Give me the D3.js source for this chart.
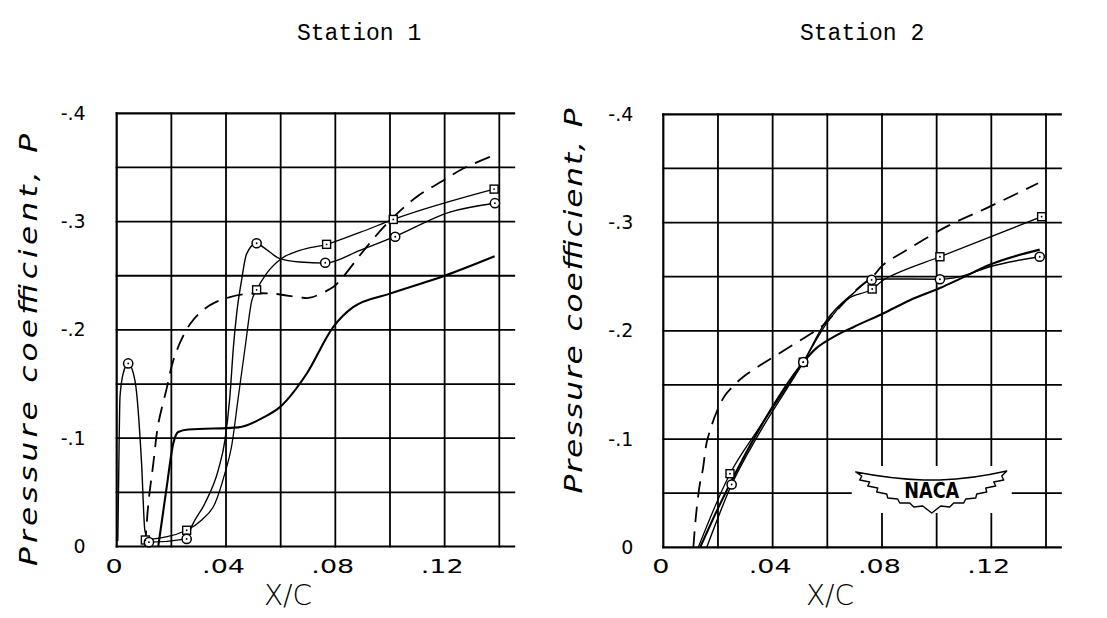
<!DOCTYPE html>
<html><head><meta charset="utf-8">
<script src="https://cdn.jsdelivr.net/npm/d3@7"></script>
<style>body{margin:0;background:#fff}svg{display:block}</style>
</head><body><svg id="c" width="1107" height="618"></svg>
<script>
// ---------- shared axis data ----------
const xTicks = [0, 0.04, 0.08, 0.12];
const xTickLabels = ["0", ".04", ".08", ".12"];
const yTicks = [0, -0.1, -0.2, -0.3, -0.4];
const yTickLabels = ["0", "-.1", "-.2", "-.3", "-.4"];
const gridX = [0, 0.02, 0.04, 0.06, 0.08, 0.10, 0.12, 0.14];
const gridY = [0, -0.05, -0.1, -0.15, -0.2, -0.25, -0.3, -0.35, -0.4];
const titles = ["Station 1", "Station 2"];
const xLabel = "X/C";
const yLabel = "Pressure coefficient, P";

// ---------- Station 1 ----------
const s1CircleMarkX = [0.0042, 0.0118, 0.0256, 0.0512, 0.0763, 0.1019, 0.1384];
const s1CircleMarkP = [-0.169, -0.004, -0.007, -0.280, -0.262, -0.286, -0.317];
const s1CircleCurveX = [0.0004, 0.0007, 0.0012, 0.0024, 0.0042, 0.0067, 0.0091, 0.0103, 0.0118, 0.0256, 0.0274, 0.0323, 0.0372, 0.0396, 0.0414, 0.0427, 0.0439, 0.0457, 0.0475, 0.0512, 0.0536, 0.0597, 0.067, 0.0763, 0.089, 0.1019, 0.1219, 0.1384];
const s1CircleCurveP = [-0.005, -0.06, -0.138, -0.160, -0.169, -0.153, -0.077, -0.015, -0.004, -0.007, -0.0185, -0.040, -0.071, -0.098, -0.138, -0.184, -0.215, -0.246, -0.270, -0.280, -0.2765, -0.2658, -0.2627, -0.2617, -0.2735, -0.2864, -0.3088, -0.317];

const s1SquareMarkX = [0.0105, 0.0256, 0.0512, 0.0768, 0.1012, 0.1381];
const s1SquareMarkP = [-0.006, -0.015, -0.237, -0.279, -0.302, -0.330];
const s1SquareCurveX = [0.0105, 0.0256, 0.0311, 0.036, 0.0396, 0.042, 0.0445, 0.047, 0.0494, 0.0512, 0.0548, 0.0603, 0.067, 0.0768, 0.089, 0.1012, 0.1381];
const s1SquareCurveP = [-0.006, -0.015, -0.0245, -0.040, -0.0677, -0.092, -0.138, -0.184, -0.2267, -0.237, -0.252, -0.266, -0.2735, -0.279, -0.290, -0.302, -0.330];

const s1SolidX = [0.0152, 0.0183, 0.0207, 0.0225, 0.0262, 0.0445, 0.0542, 0.0597, 0.0695, 0.0792, 0.0865, 0.100, 0.120, 0.1383];
const s1SolidP = [0, -0.055, -0.095, -0.1057, -0.108, -0.110, -0.1198, -0.1287, -0.1595, -0.2026, -0.221, -0.2335, -0.250, -0.268];

const s1DashX = [0.0104, 0.0116, 0.0134, 0.0152, 0.0183, 0.0205, 0.0235, 0.027, 0.031, 0.0353, 0.0414, 0.0481, 0.0573, 0.067, 0.0707, 0.0792, 0.0823, 0.0914, 0.100, 0.1097, 0.1195, 0.1268, 0.1371];
const s1DashP = [0, -0.04, -0.0767, -0.113, -0.146, -0.170, -0.190, -0.206, -0.217, -0.2245, -0.2303, -0.2334, -0.2334, -0.230, -0.2297, -0.2396, -0.2474, -0.2765, -0.301, -0.3227, -0.338, -0.349, -0.3603];

// ---------- Station 2 ----------
const s2CircleMarkX = [0.025, 0.0512, 0.0762, 0.1012, 0.1377];
const s2CircleMarkP = [-0.058, -0.171, -0.247, -0.2476, -0.2684];
const s2CircleCurveX = [0.0159, 0.025, 0.035, 0.0512, 0.0598, 0.0695, 0.0762, 0.0811, 0.1012, 0.1085, 0.1194, 0.1377];
const s2CircleCurveP = [0, -0.058, -0.105, -0.171, -0.21, -0.2346, -0.247, -0.2479, -0.2476, -0.250, -0.2592, -0.2684];

const s2SquareMarkX = [0.0244, 0.0512, 0.0764, 0.1012, 0.1384];
const s2SquareMarkP = [-0.068, -0.171, -0.2386, -0.2684, -0.3054];
const s2SquareCurveX = [0.0128, 0.0244, 0.035, 0.0512, 0.0598, 0.067, 0.0764, 0.0811, 0.0841, 0.1012, 0.1384];
const s2SquareCurveP = [0, -0.068, -0.11, -0.171, -0.207, -0.2285, -0.2386, -0.2479, -0.2516, -0.2684, -0.3054];

const s2SolidX = [0.0135, 0.02, 0.03, 0.04, 0.0512, 0.056, 0.062, 0.07, 0.0804, 0.09, 0.1012, 0.1085, 0.1194, 0.1377];
const s2SolidP = [0, -0.036, -0.086, -0.13, -0.171, -0.184, -0.194, -0.204, -0.216, -0.228, -0.2395, -0.248, -0.261, -0.275];

const s2DashX = [0.0110, 0.0119, 0.0134, 0.0144, 0.0158, 0.0171, 0.0195, 0.0225, 0.0260, 0.0293, 0.0366, 0.0463, 0.0585, 0.0646, 0.0707, 0.0773, 0.0802, 0.089, 0.1036, 0.1194, 0.1371];
const s2DashP = [0, -0.028, -0.059, -0.071, -0.096, -0.108, -0.125, -0.140, -0.150, -0.1576, -0.170, -0.1853, -0.2053, -0.222, -0.238, -0.252, -0.2605, -0.2746, -0.2962, -0.3147, -0.3363];

// ---------- drawing ----------
const svg = d3.select("#c");
svg.append("rect").attr("width", 1107).attr("height", 618).attr("fill", "#fff");
const zip = (xs, ps) => xs.map((x, i) => [x, ps[i]]);

const panels = [
  { x0: 116.7, x1: 499.3, y0: 546.5, yTop: 113.3, title: titles[0], titleX: 297, yTickPad: 31, yLabX: 37, yLabY: 350, yLabLen: 432, xLabX: 288, logo: false,
    circleMark: zip(s1CircleMarkX, s1CircleMarkP), circleCurve: zip(s1CircleCurveX, s1CircleCurveP),
    squareMark: zip(s1SquareMarkX, s1SquareMarkP), squareCurve: zip(s1SquareCurveX, s1SquareCurveP),
    solid: zip(s1SolidX, s1SolidP), dash: zip(s1DashX, s1DashP) },
  { x0: 663.3, x1: 1046, y0: 547.3, yTop: 114.3, title: titles[1], titleX: 800, yTickPad: 30, yLabX: 582, yLabY: 301, yLabLen: 385, xLabX: 830, logo: true,
    circleMark: zip(s2CircleMarkX, s2CircleMarkP), circleCurve: zip(s2CircleCurveX, s2CircleCurveP),
    squareMark: zip(s2SquareMarkX, s2SquareMarkP), squareCurve: zip(s2SquareCurveX, s2SquareCurveP),
    solid: zip(s2SolidX, s2SolidP), dash: zip(s2DashX, s2DashP) }
];

const labelFont = "'DejaVu Sans', sans-serif";
const yLabStretch = 1.3;

panels.forEach(p => {
  const x = d3.scaleLinear().domain([0, 0.14]).range([p.x0, p.x1]);
  const y = d3.scaleLinear().domain([0, -0.4]).range([p.y0, p.yTop]);
  const g = svg.append("g");
  const xEnd = x(0.1458);

  // grid
  g.selectAll(".gv").data(gridX).join("line")
    .attr("x1", d => x(d)).attr("x2", d => x(d)).attr("y1", y(0) + 1).attr("y2", y(-0.4) - 1)
    .attr("stroke", "#000").attr("stroke-width", d => d === 0 ? 2.2 : 1.8);
  g.selectAll(".gh").data(gridY).join("line")
    .attr("x1", x(0) - 1).attr("x2", xEnd).attr("y1", d => y(d)).attr("y2", d => y(d))
    .attr("stroke", "#000").attr("stroke-width", d => (d === 0 || d === -0.4) ? 2.2 : 1.8);

  // logo (Station 2)
  if (p.logo) {
    const cx = x(0.0982), cy = y(-0.052);
    const lg = g.append("g").attr("transform", `translate(${cx},${cy})`);
    lg.append("rect").attr("x", -80).attr("y", -25).attr("width", 160).attr("height", 47).attr("fill", "#fff");
    const wing = "M-76,-19 Q-40,-12 -8,-11 L8,-11 Q40,-12 75,-20 L70,-15 L72,-11 L62,-9 L64,-5 L54,-3 L55,1 L45,3 L44,7 L34,8 L32,12 L22,12 L18,16 L9,15 L0,22 L-9,15 L-18,16 L-22,12 L-32,12 L-34,8 L-44,7 L-45,3 L-55,1 L-54,-3 L-64,-5 L-62,-9 L-72,-11 L-70,-15 Z";
    lg.append("path").attr("d", wing).attr("fill", "#fff").attr("stroke", "#000").attr("stroke-width", 1.4).attr("stroke-linejoin", "round");
    lg.append("text").attr("transform", "translate(0,7) scale(0.84,1)").attr("text-anchor", "middle")
      .attr("font-family", "'DejaVu Sans', sans-serif").attr("font-weight", "bold").attr("font-size", 21)
      .text("NACA");
  }

  // curves
  const line = d3.line().x(d => x(d[0])).y(d => y(d[1])).curve(d3.curveMonotoneX);
  const smooth = d3.line().x(d => x(d[0])).y(d => y(d[1])).curve(d3.curveCatmullRom.alpha(0.5));
  g.append("path").attr("d", smooth(p.dash)).attr("fill", "none").attr("stroke", "#000")
    .attr("stroke-width", 1.8).attr("stroke-dasharray", "16,9");
  g.append("path").attr("d", line(p.solid)).attr("fill", "none").attr("stroke", "#000").attr("stroke-width", 2.1);
  g.append("path").attr("d", line(p.squareCurve)).attr("fill", "none").attr("stroke", "#000").attr("stroke-width", 1.3);
  g.append("path").attr("d", line(p.circleCurve)).attr("fill", "none").attr("stroke", "#000").attr("stroke-width", 1.4);

  // markers
  g.selectAll(".sq").data(p.squareMark).join("rect")
    .attr("x", d => x(d[0]) - 4).attr("y", d => y(d[1]) - 4).attr("width", 8).attr("height", 8)
    .attr("fill", "#fff").attr("stroke", "#000").attr("stroke-width", 1.4);
  g.selectAll(".ci").data(p.circleMark).join("circle")
    .attr("cx", d => x(d[0])).attr("cy", d => y(d[1])).attr("r", 4.6)
    .attr("fill", "#fff").attr("stroke", "#000").attr("stroke-width", 1.5);
  g.selectAll(".dt").data(p.squareMark.concat(p.circleMark)).join("circle")
    .attr("cx", d => x(d[0])).attr("cy", d => y(d[1])).attr("r", 0.9).attr("fill", "#000");

  // axes
  const ax = g.append("g").attr("transform", `translate(0,${p.y0})`)
    .call(d3.axisBottom(x).tickValues(xTicks).tickFormat((d, i) => xTickLabels[i]).tickSize(0).tickPadding(12));
  ax.select(".domain").remove();
  ax.selectAll("text").attr("font-family", labelFont).attr("font-size", 20)
    .attr("fill", "#000").attr("transform", "translate(-3,0) scale(1.35,1)");

  const ay = g.append("g").attr("transform", `translate(${p.x0},0)`)
    .call(d3.axisLeft(y).tickValues(yTicks).tickFormat((d, i) => yTickLabels[i]).tickSize(0).tickPadding(p.yTickPad));
  ay.select(".domain").remove();
  ay.selectAll("text").attr("font-family", labelFont).attr("font-size", 19).attr("fill", "#000");

  // labels
  g.append("text").attr("x", p.xLabX).attr("y", 605).attr("text-anchor", "middle")
    .attr("font-family", labelFont).attr("font-size", 28).attr("font-weight", 300).text(xLabel);
  g.append("text").attr("transform", `translate(${p.yLabX},${p.yLabY}) rotate(-90) scale(${yLabStretch},1)`)
    .attr("text-anchor", "middle")
    .attr("font-family", labelFont).attr("font-style", "italic").attr("font-size", 24)
    .attr("textLength", p.yLabLen / yLabStretch).attr("lengthAdjust", "spacing").text(yLabel);
  g.append("text").attr("x", p.titleX).attr("y", 40)
    .attr("font-family", "'Liberation Mono', 'Courier New', monospace").attr("font-size", 23).text(p.title);
});
</script>
</body></html>
